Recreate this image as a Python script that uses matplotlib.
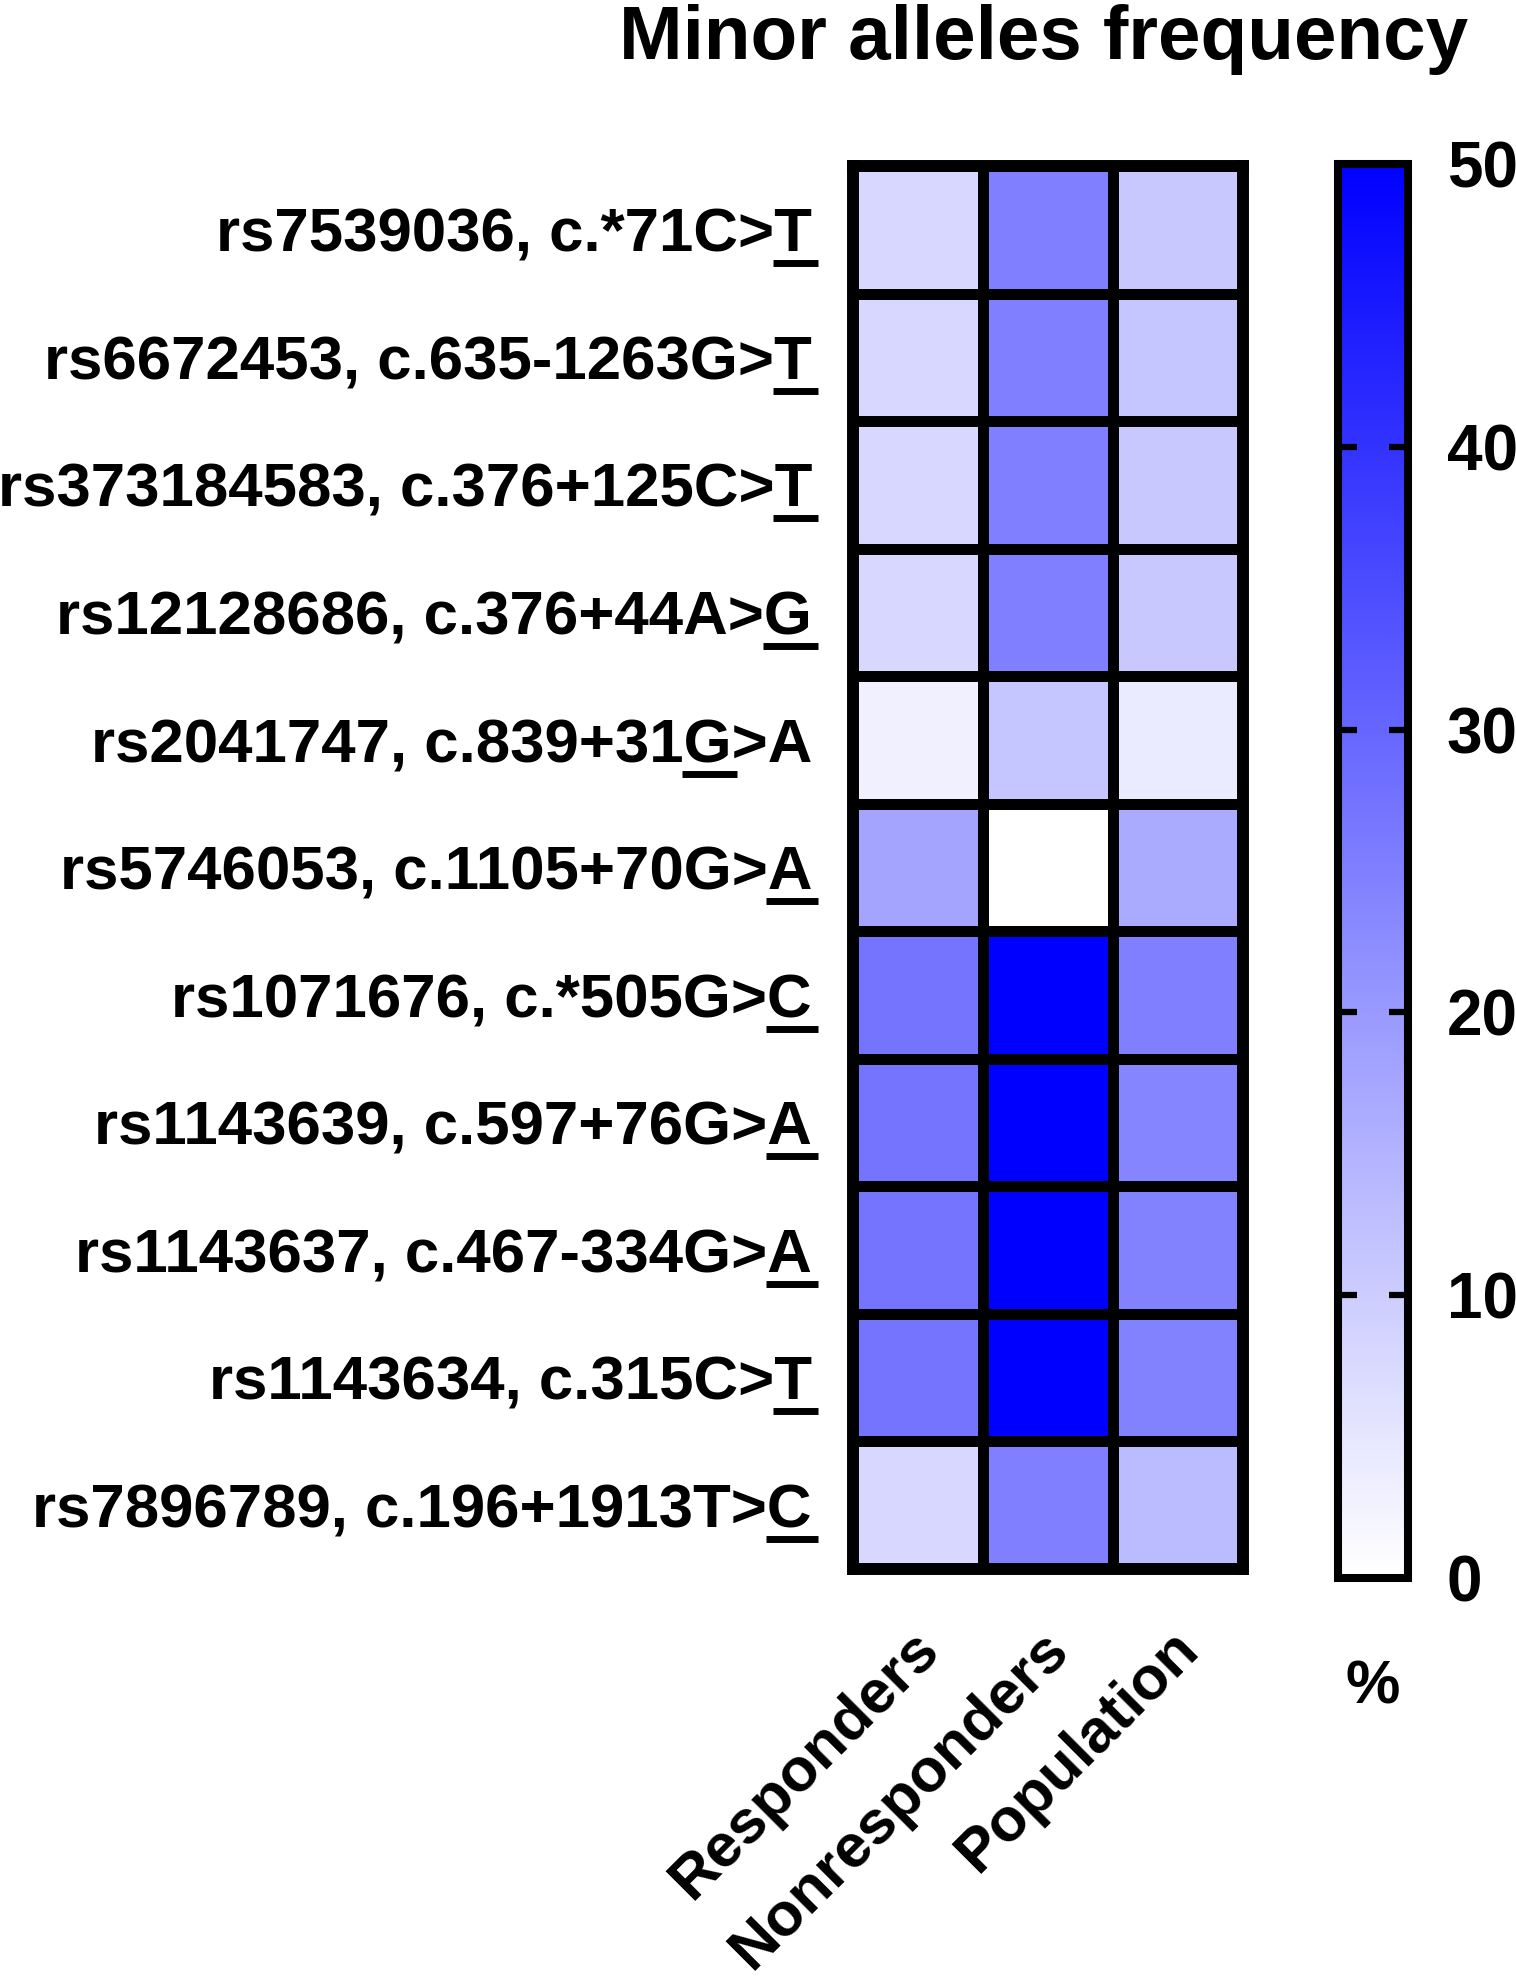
import matplotlib
matplotlib.use('Agg')
import matplotlib.pyplot as plt
import numpy as np
from matplotlib.colors import LinearSegmentedColormap
from matplotlib.transforms import ScaledTranslation, blended_transform_factory
from matplotlib.font_manager import FontProperties
from matplotlib.lines import Line2D

plt.rcParams['font.family'] = ['Liberation Sans', 'DejaVu Sans']
plt.rcParams['font.weight'] = 'bold'

# ---------------- data ----------------
snp_ids = ['rs7539036', 'rs6672453', 'rs373184583', 'rs12128686', 'rs2041747',
           'rs5746053', 'rs1071676', 'rs1143639', 'rs1143637', 'rs1143634',
           'rs7896789']
variants = ['c.*71C>T', 'c.635-1263G>T', 'c.376+125C>T', 'c.376+44A>G',
            'c.839+31G>A', 'c.1105+70G>A', 'c.*505G>C', 'c.597+76G>A',
            'c.467-334G>A', 'c.315C>T', 'c.196+1913T>C']
# position (counted from the end of the label) of the underlined minor allele
underline_from_end = [1, 1, 1, 1, 3, 1, 1, 1, 1, 1, 1]

groups = ['Responders', 'Nonresponders', 'Population']
responders    = [8.0, 8.0, 8.0, 8.0, 3.0, 17.8, 27.3, 27.3, 27.3, 27.3, 8.0]
nonresponders = [25.0, 25.0, 25.0, 25.0, 11.5, 0.0, 50.0, 50.0, 50.0, 50.0, 25.0]
population    = [10.8, 11.5, 10.8, 10.8, 4.0, 16.7, 25.0, 24.0, 24.5, 24.5, 13.3]

cbar_ticks = [0, 10, 20, 30, 40, 50]
title = 'Minor alleles frequency'
cbar_label = '%'

# ---------------- figure ----------------
W, H, DPI = 1516, 1976, 100
fig = plt.figure(figsize=(W / DPI, H / DPI), dpi=DPI)


def px(x0, y0, x1, y1):
    return [x0 / W, 1 - y1 / H, (x1 - x0) / W, (y1 - y0) / H]


ax = fig.add_axes(px(853, 166, 1243, 1569))
cax = fig.add_axes(px(1338, 164, 1408, 1578))

data = np.array([responders, nonresponders, population]).T
cmap = LinearSegmentedColormap.from_list('white_blue', ['#FFFFFF', '#0000FF'])
mesh = ax.pcolormesh(data, cmap=cmap, vmin=0, vmax=50,
                     edgecolors='black', linewidth=6.5)
ax.set_xlim(0, len(groups))
ax.set_ylim(len(snp_ids), 0)
ax.set_xticks([])
ax.set_yticks([])
for s in ax.spines.values():
    s.set_linewidth(8.6)

cb = fig.colorbar(mesh, cax=cax, ticks=cbar_ticks)
cb.outline.set_linewidth(5.8)
cax.tick_params(axis='y', which='major', direction='in', left=True, right=True,
                length=14, width=4.5, labelsize=46, pad=28)
cax.minorticks_off()

# title
fig.text(1468 / W, 1 - 4 / H, title, ha='right', va='top', fontsize=55,
         fontweight='bold')

# colorbar unit label
cax.text(0.5, 0, cbar_label, transform=cax.transAxes +
         ScaledTranslation(0, -110 / DPI, fig.dpi_scale_trans),
         ha='center', va='center', fontsize=44, fontweight='bold')

# column labels
xtr = blended_transform_factory(ax.transData, ax.transAxes) + \
    ScaledTranslation(-8 / DPI, -51 / DPI, fig.dpi_scale_trans)
for j, g in enumerate(groups):
    ax.text(j + 0.5, 0, g, transform=xtr, rotation=45, rotation_mode='anchor',
            ha='right', va='top', fontsize=44, fontweight='bold')

# row labels with underlined allele
fs = 44.5
prop = FontProperties(family='Liberation Sans', weight='bold', size=fs)
cap = 0.716 * fs * DPI / 72
ytr = blended_transform_factory(ax.transAxes, ax.transData) + \
    ScaledTranslation(-41 / DPI, -cap / 2 / DPI, fig.dpi_scale_trans)
labels = []
for i, (sid, var) in enumerate(zip(snp_ids, variants)):
    lab = f'{sid}, {var}'
    t = ax.text(0, i + 0.5, lab, transform=ytr, ha='right', va='baseline',
                fontproperties=prop)
    labels.append((t, lab, i))

fig.canvas.draw()
renderer = fig.canvas.get_renderer()
inv = fig.transFigure.inverted()
for (t, lab, i), k in zip(labels, underline_from_end):
    ax_x, ax_y = t.get_transform().transform((0, i + 0.5))
    tail = lab[len(lab) - k + 1:]
    seg = lab[len(lab) - k:]
    w_tail = renderer.get_text_width_height_descent(tail, prop, ismath=False)[0] if tail else 0
    w_seg = renderer.get_text_width_height_descent(seg, prop, ismath=False)[0]
    x0 = ax_x - w_seg - 1
    x1 = ax_x - w_tail + 6
    yy = ax_y - 11.5
    (fx0, fy), (fx1, _) = inv.transform([(x0, yy), (x1, yy)])
    fig.add_artist(Line2D([fx0, fx1], [fy, fy], transform=fig.transFigure,
                          color='black', linewidth=5, solid_capstyle='butt'))

fig.savefig('out.png', dpi=DPI)
